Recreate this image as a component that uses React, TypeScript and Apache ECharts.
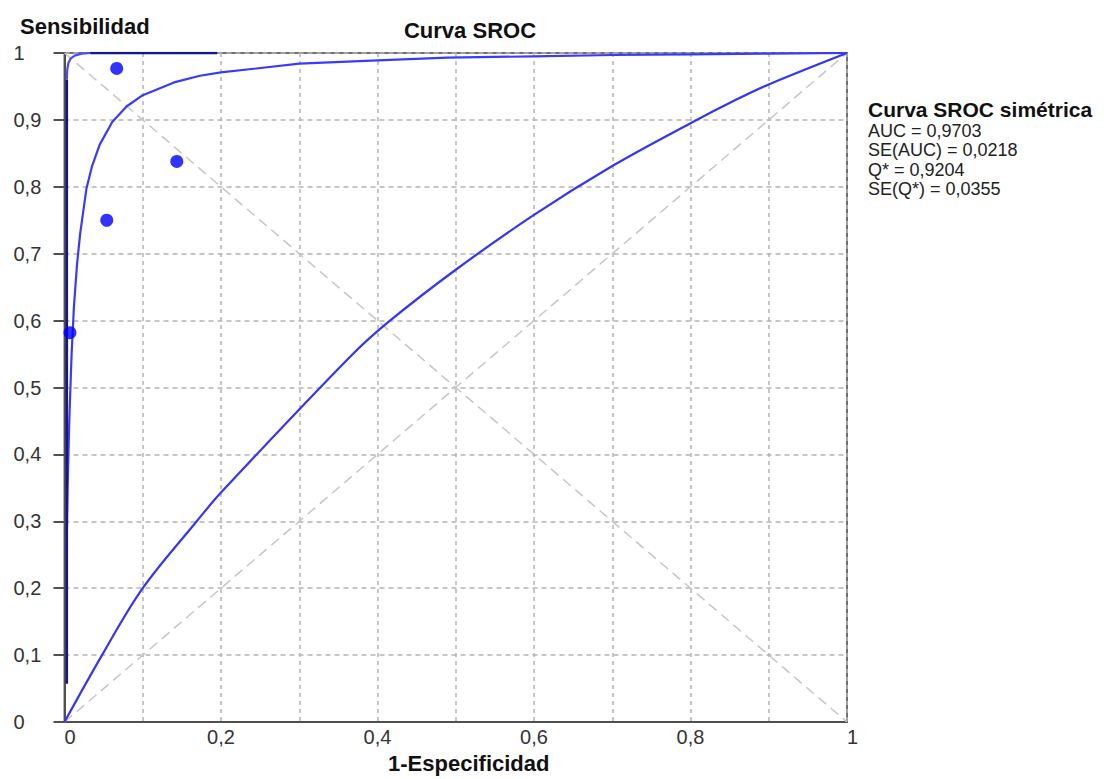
import React, { useEffect, useRef } from "react";
import * as echarts from "echarts";

// Symmetric SROC curve
const srocFpr = [0.0025, 0.004, 0.006, 0.009, 0.012, 0.016, 0.02, 0.028, 0.035, 0.045, 0.061, 0.0796, 0.1, 0.14, 0.173, 0.2, 0.3, 0.4, 0.489, 0.6, 0.7, 0.8, 0.9, 1];
const srocSens = [0.25, 0.35, 0.446, 0.548, 0.62, 0.684, 0.73, 0.797, 0.83, 0.863, 0.897, 0.9204, 0.937, 0.956, 0.966, 0.971, 0.984, 0.989, 0.993, 0.995, 0.997, 0.998, 0.999, 1];

// Lower curve
const lowerFpr = [0, 0.048, 0.1, 0.169, 0.2, 0.365, 0.414, 0.5, 0.6, 0.7, 0.8, 0.858, 0.9, 1];
const lowerSens = [0, 0.1, 0.2, 0.3, 0.343, 0.546, 0.598, 0.676, 0.758, 0.831, 0.895, 0.93, 0.953, 1];

// Upper-left edge curve
const edgeFpr = [0.003, 0.003];
const edgeSens = [0.057, 0.96];
const cornerFpr = [0.003, 0.0035, 0.005, 0.008, 0.013, 0.022, 0.033];
const cornerSens = [0.96, 0.975, 0.985, 0.992, 0.996, 0.999, 1];
const topFpr = [0.033, 0.195];
const topSens = [1, 1];

// Studies
const studyFpr = [0.007, 0.054, 0.0667, 0.1435];
const studySens = [0.582, 0.75, 0.977, 0.838];

// Legend texts
const legendTitle = "Curva SROC simétrica";
const legendLines = ["AUC = 0,9703", "SE(AUC) = 0,0218", "Q* = 0,9204", "SE(Q*) = 0,0355"];

const zip = (xs: number[], ys: number[]) => xs.map((x, i) => [x, ys[i]]);

const fmt = (v: number) => {
  const r = Math.round(v * 10) / 10;
  if (r === 0) return "0";
  if (r === 1) return "1";
  return r.toFixed(1).replace(".", ",");
};

const FONT = "Liberation Sans";

export default function App() {
  const ref = useRef<HTMLDivElement>(null);
  useEffect(() => {
    if (!ref.current) return;
    const chart = echarts.init(ref.current, undefined, { renderer: "svg" });
    const legendGraphics: any[] = [
      {
        type: "text",
        left: 868,
        top: 99,
        style: { text: legendTitle, font: `bold 21px "${FONT}"`, fill: "#111" },
      },
      ...legendLines.map((t, i) => ({
        type: "text",
        left: 868,
        top: 121.5 + i * 19.5,
        style: { text: t, font: `18px "${FONT}"`, fill: "#222" },
      })),
      {
        type: "text",
        left: 20,
        top: 15,
        style: { text: "Sensibilidad", font: `bold 22px "${FONT}"`, fill: "#111" },
      },
    ];
    chart.setOption({
      animation: false,
      backgroundColor: "#ffffff",
      title: {
        text: "Curva SROC",
        left: 465,
        top: 14,
        textAlign: "center",
        textStyle: { fontFamily: FONT, fontWeight: "bold", fontSize: 22, color: "#111" },
      },
      grid: {
        left: 64.5,
        right: 271,
        top: 53,
        bottom: 54,
        show: true,
        borderColor: "#707070",
        borderWidth: 2,
      },
      xAxis: {
        type: "value",
        min: 0,
        max: 1,
        interval: 0.1,
        name: "1-Especificidad",
        nameLocation: "middle",
        nameGap: 30,
        nameTextStyle: { fontFamily: FONT, fontWeight: "bold", fontSize: 22, color: "#111", padding: [0, 0, 0, 26] },
        axisLine: { show: true, lineStyle: { color: "#505050", width: 2 } },
        axisTick: { show: false },
        axisLabel: {
          fontFamily: FONT,
          fontSize: 20,
          color: "#333",
          margin: 5,
          alignMinLabel: "left",
          alignMaxLabel: "left",
          formatter: (v: number) => (Math.round(v * 10) % 2 === 0 ? fmt(v) : ""),
        },
        splitLine: { show: true, lineStyle: { type: [4, 4], color: "#b4b4b4", width: 1.5 } },
      },
      yAxis: {
        type: "value",
        min: 0,
        max: 1,
        interval: 0.1,
        axisLine: { show: true, lineStyle: { color: "#505050", width: 2 } },
        axisTick: { show: true, length: 11, lineStyle: { color: "#505050", width: 2 } },
        axisLabel: {
          fontFamily: FONT,
          fontSize: 20,
          color: "#333",
          align: "left",
          margin: 51,
          formatter: (v: number) => fmt(v),
        },
        splitLine: { show: true, lineStyle: { type: [5, 4], color: "#b4b4b4", width: 1.5 } },
      },
      graphic: legendGraphics,
      series: [
        {
          type: "line",
          data: [[0, 1], [1, 0]],
          symbol: "none",
          silent: true,
          lineStyle: { color: "#c6c6c6", width: 1.5, type: [10, 6] },
        },
        {
          type: "line",
          data: [[0, 0], [1, 1]],
          symbol: "none",
          silent: true,
          lineStyle: { color: "#c6c6c6", width: 1.5, type: [10, 6] },
        },
        {
          type: "line",
          data: zip(lowerFpr, lowerSens),
          symbol: "none",
          smooth: 0.35,
          lineStyle: { color: "#3535f5", width: 2.2 },
        },
        {
          type: "line",
          data: zip(srocFpr, srocSens),
          symbol: "none",
          lineStyle: { color: "#3a3aff", width: 2.2 },
        },
        {
          type: "line",
          data: zip(edgeFpr, edgeSens),
          symbol: "none",
          z: 5,
          lineStyle: { color: "#16168c", width: 2.5 },
        },
        {
          type: "line",
          data: zip(cornerFpr, cornerSens),
          symbol: "none",
          z: 5,
          lineStyle: { color: "#4a4aff", width: 2.2 },
        },
        {
          type: "line",
          data: zip(topFpr, topSens),
          symbol: "none",
          z: 5,
          lineStyle: { color: "#16168c", width: 2.5 },
        },
        {
          type: "scatter",
          data: zip(studyFpr, studySens),
          symbol: "circle",
          symbolSize: 13,
          z: 6,
          itemStyle: { color: "#0000ff" },
        },
      ],
    });
    return () => chart.dispose();
  }, []);
  return (
    <div
      ref={ref}
      style={{ position: "fixed", left: 0, top: 0, width: 1118, height: 779, background: "#fff" }}
    />
  );
}
